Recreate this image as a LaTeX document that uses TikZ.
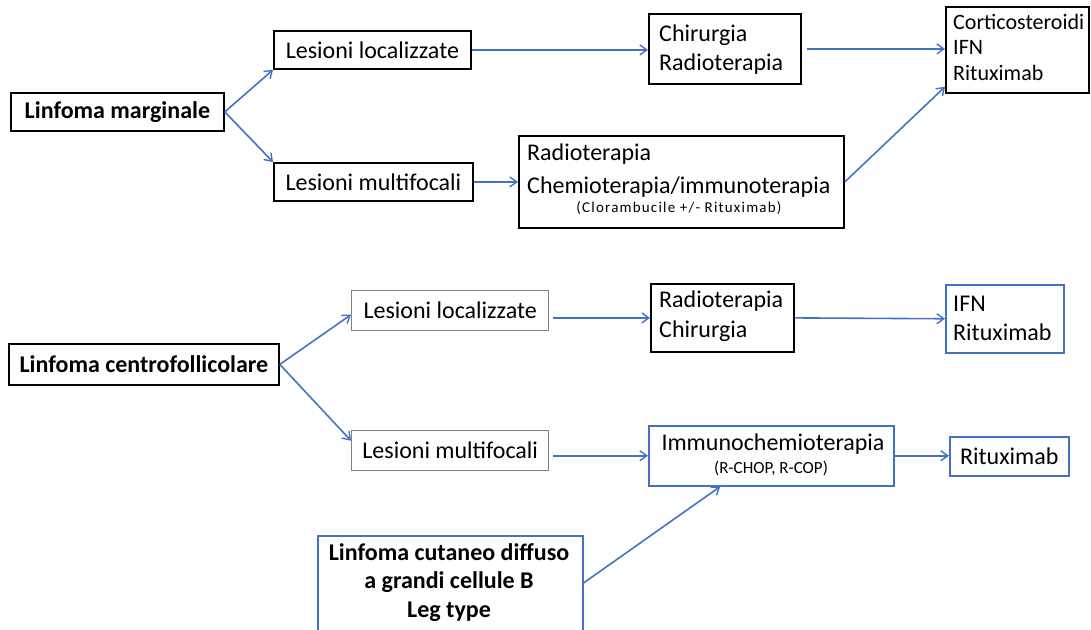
\documentclass[tikz,border=0pt]{standalone}
\usepackage{fontspec}
\setmainfont{Carlito}
\usetikzlibrary{arrows.meta,calc}

\definecolor{officeblue}{HTML}{4472C4}
\definecolor{boxgray}{HTML}{808080}

\tikzset{
  box/.style={draw=black, line width=1.8pt, inner sep=0pt, anchor=north west},
  graybox/.style={box, draw=boxgray, line width=1.4pt},
  bluebox/.style={box, draw=officeblue, line width=1.5pt},
  arr/.style={draw=officeblue, line width=1.6pt,
    -{Straight Barb[length=7pt,width=10pt,line width=1.4pt]}},
  txt/.style={font=\fontsize{24}{29}\selectfont},
  bold/.style={font=\fontsize{24}{28}\selectfont\bfseries},
  % multi-line labels are placed by the baseline of their last line
  lines/.style={inner sep=0pt, anchor=base west, align=left},
}

\begin{document}
\begin{tikzpicture}[x=1pt,y=-1pt]
\useasboundingbox (0,0) rectangle (1091,629);
\clip (0,0) rectangle (1091,629);

% ---------------- Linfoma marginale ----------------
\node[box, bold, minimum width=213pt, minimum height=38pt, align=center]
  (lm) at (10,92) {Linfoma marginale};
\node[box, txt, minimum width=197pt, minimum height=38pt, align=center]
  (mll) at (273,30) {Lesioni localizzate};
\node[box, txt, minimum width=199pt, minimum height=38pt, align=center]
  (mlm) at (273,162) {Lesioni multifocali};

\node[box, minimum width=152pt, minimum height=70pt] (mchir) at (648,13) {};
\node[lines, font=\fontsize{24}{29}\selectfont] (tmchir) at (659,70) {Chirurgia\\Radioterapia};

\node[box, minimum width=143pt, minimum height=86pt] (mcort) at (945,6) {};
\node[lines, font=\fontsize{22}{25.5}\selectfont] (tmcort) at (953,80) {Corticosteroidi\\IFN\\Rituximab};

\node[box, minimum width=325pt, minimum height=92pt] (mchemo) at (518,135) {};
\node[lines, font=\fontsize{24}{33}\selectfont] (tmchemo) at (527,193)
  {Radioterapia\\Chemioterapia/immunoterapia};
\node[inner sep=0pt, anchor=base, font=\fontsize{15}{18}\selectfont\addfontfeature{LetterSpace=8}]
  (smchemo) at (679,212) {(Clorambucile +/- Rituximab)};

\draw[arr] (lm.east) -- (mll.south west);
\draw[arr] (lm.east) -- (mlm.north west);
\draw[arr] (mll.east) -- (mchir.west |- mll.east);
\draw[arr] ([xshift=5pt]mchir.east) -- (mcort.west |- mchir.east);
\draw[arr] (mlm.east) -- (mchemo.west |- mlm.east);
\draw[arr] (mchemo.east) -- ([yshift=7pt]mcort.south west);

% ---------------- Linfoma centrofollicolare ----------------
\node[box, bold, minimum width=270pt, minimum height=41pt, align=center]
  (lc) at (8,343) {Linfoma centrofollicolare};
\node[graybox, txt, minimum width=197pt, minimum height=40pt, align=center]
  (cll) at (351,290) {Lesioni localizzate};
\node[graybox, txt, minimum width=197pt, minimum height=40pt, align=center]
  (clm) at (351,430) {Lesioni multifocali};

\node[box, minimum width=143pt, minimum height=68pt] (crad) at (650,283) {};
\node[lines, font=\fontsize{24}{30}\selectfont] (tcrad) at (659,337) {Radioterapia\\Chirurgia};

\node[bluebox, minimum width=118pt, minimum height=68pt] (cifn) at (945,284) {};
\node[lines, font=\fontsize{24}{29}\selectfont] (tcifn) at (953,340) {IFN\\Rituximab};

\node[bluebox, minimum width=245pt, minimum height=60pt] (cimm) at (648,425) {};
\node[inner sep=0pt, anchor=base, font=\fontsize{24}{29}\selectfont]
  (tcimm) at (773,450) {Immunochemioterapia};
\node[inner sep=0pt, anchor=base, font=\fontsize{17}{20}\selectfont]
  (scimm) at (771,473) {(R-CHOP, R-COP)};

\node[bluebox, txt, minimum width=119pt, minimum height=39pt, align=center]
  (crit) at (949,436) {Rituximab};

\node[bluebox, minimum width=265pt, minimum height=110pt] (ccut) at (317,535) {};
\node[inner sep=0pt, anchor=base, align=center, font=\fontsize{24}{28.5}\selectfont\bfseries]
  (tccut) at (449,617) {Linfoma cutaneo diffuso\\a grandi cellule B\\Leg type};

\draw[arr] (lc.east) -- ([yshift=-4pt]cll.west);
\draw[arr] (lc.east) -- ([yshift=10pt]clm.west);
\draw[arr] ([xshift=4pt]cll.east |- crad.west) -- (crad.west);
\draw[arr] (crad.east) -- (cifn.west);
\draw[arr] ([xshift=4pt]clm.east |- cimm.west) -- (cimm.west);
\draw[arr] (cimm.east) -- (cimm.east -| crit.west);
\draw[arr] ([yshift=-48pt]ccut.north east) -- ([xshift=-51pt]cimm.south);
\end{tikzpicture}
\end{document}
